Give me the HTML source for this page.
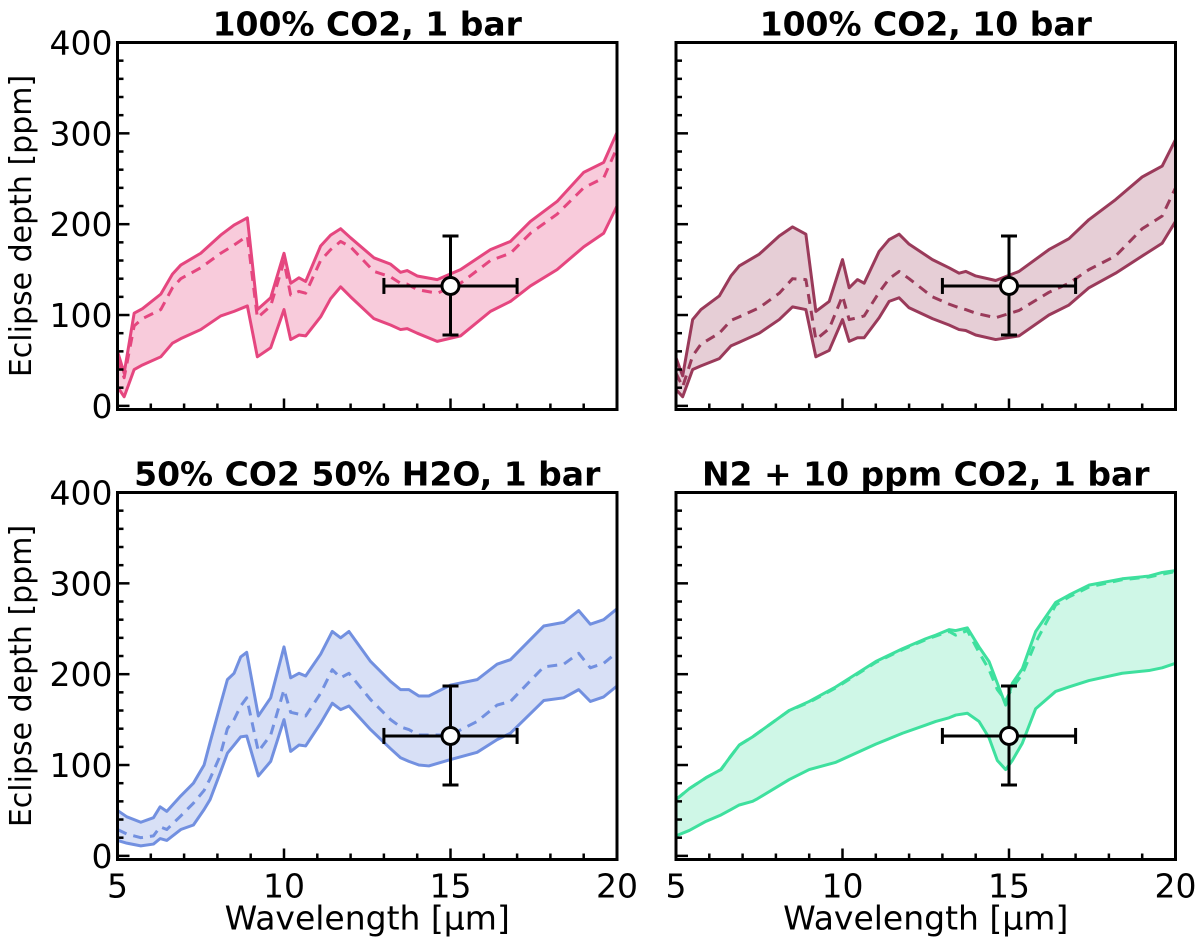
<!DOCTYPE html>
<html><head><meta charset="utf-8"><style>
body{margin:0;background:#fff}
svg{display:block;font-family:"DejaVu Sans","Liberation Sans",sans-serif}
</style></head><body>
<svg id="fig" width="1200" height="946" viewBox="0 0 1200 946" xmlns="http://www.w3.org/2000/svg"></svg>
<script>
const titles = ["100% CO2, 1 bar","100% CO2, 10 bar","50% CO2 50% H2O, 1 bar","N2 + 10 ppm CO2, 1 bar"];
const xTicks = [5,10,15,20];
const yTicks = [0,100,200,300,400];
const w1 = [5,5.2,5.5,5.75,6.3,6.65,6.9,7.5,8.1,8.5,8.9,9.2,9.6,10,10.2,10.45,10.65,11.1,11.4,11.7,12,12.7,13.2,13.5,13.7,14,14.6,15.3,16.2,16.8,17.4,18.2,19,19.6,20];
const p1Upper = [60,36,102,107,123,145,155,168,188,199,207,106,119,168,135,141,137,176,188,195,185,163,156,147,149,143,139,150,172,181,203,225,257,268,301];
const p1Mid = [51,31,88,96,106,130,140,152,168,177,187,97,110,159,122,126,124,160,172,181,175,148,142,135,134,128,124,135,160,168,190,211,240,251,284];
const p1Lower = [21,10,40,45,54,69,74,84,99,104,110,54,64,106,73,78,77,98,118,131,120,96,89,84,85,80,71,77,104,115,132,150,175,190,220];
const p2Upper = [53,33,95,106,121,143,154,167,187,197,189,104,115,161,130,139,135,170,183,189,178,161,152,146,148,143,138,148,172,184,205,227,252,264,293];
const p2Mid = [36,21,55,68,80,94,98,108,124,140,139,73,85,121,95,97,99,125,140,148,140,120,112,108,106,102,97,105,125,135,150,165,195,209,240];
const p2Lower = [18,10,40,44,52,66,70,80,95,109,106,54,61,95,71,75,75,97,115,119,108,96,89,84,83,78,73,77,100,111,130,146,165,179,203];
const w3 = [5,5.28,5.7,6.08,6.28,6.48,6.9,7.28,7.6,7.78,8.08,8.3,8.5,8.7,8.88,9.23,9.6,10,10.2,10.45,10.65,11.1,11.45,11.7,11.95,12.6,13.2,13.5,13.75,14.05,14.35,15,15.8,16.4,16.8,17.8,18.4,18.85,19.2,19.6,20];
const p3Upper = [50,43,37,42,54,49,66,80,100,125,165,194,201,219,224,154,174,230,196,201,198,222,247,240,247,214,192,183,183,176,176,188,194,211,216,253,257,270,255,260,272];
const p3Mid = [29,24,20,22,32,29,44,58,72,85,110,140,150,165,174,115,133,183,158,156,154,179,205,196,201,172,150,142,139,133,133,133,148,166,170,208,211,223,207,212,224];
const p3Lower = [17,14,11,13,19,17,29,34,51,62,91,113,122,131,132,88,104,150,115,122,121,146,168,161,165,139,118,108,104,100,99,106,114,128,135,171,174,183,170,175,187];
const w4 = [5,5.4,5.9,6.35,6.65,6.9,7.3,7.45,8.4,9,9.8,11,11.8,12.5,12.8,13.2,13.4,13.75,14.1,14.4,14.65,14.9,15.1,15.4,15.8,16.4,16.8,17.4,18.4,19.2,19.6,20];
const p4Upper = [62,74,86,95,110,122,131,135,160,170,186,214,228,239,243,249,248,251,230,214,190,166,190,206,247,279,287,298,305,308,312,314];
const p4Mid = [62,74,86,95,110,122,131,135,160,169,185,213,227,238,242,247,243,248,224,205,183,171,185,200,235,276,285,296,304,307,310,313];
const p4Lower = [22,28,38,45,51,56,60,63,84,95,103,123,135,144,148,152,155,157,148,130,105,95,105,124,162,181,186,193,201,204,207,212];
const obsX = 15, obsY = 132, obsXErr = 2, obsYLo = 78, obsYHi = 187;

const NS = "http://www.w3.org/2000/svg";
const svg = document.getElementById("fig");
function mk(tag, attrs, parent){const e=document.createElementNS(NS,tag);for(const k in attrs)e.setAttribute(k,attrs[k]);(parent||svg).appendChild(e);return e;}

const panels = [
 {x0:117.5,x1:617,y0:42.5,y1:409.5,w:w1,up:p1Upper,mid:p1Mid,lo:p1Lower,col:"#e5467f",fill:"rgba(229,70,127,0.28)",ylab:true,xlab:false,name:"co2-1bar"},
 {x0:676,x1:1175.5,y0:42.5,y1:409.5,w:w1,up:p2Upper,mid:p2Mid,lo:p2Lower,col:"#9a3a5a",fill:"rgba(154,58,90,0.25)",ylab:false,xlab:false,name:"co2-10bar"},
 {x0:117.5,x1:617,y0:492.5,y1:859.5,w:w3,up:p3Upper,mid:p3Mid,lo:p3Lower,col:"#7290e0",fill:"rgba(114,144,224,0.28)",ylab:true,xlab:true,name:"co2-h2o-1bar"},
 {x0:676,x1:1175.5,y0:492.5,y1:859.5,w:w4,up:p4Upper,mid:p4Mid,lo:p4Lower,col:"#3ee09e",fill:"rgba(62,224,158,0.25)",ylab:false,xlab:true,name:"n2-co2-1bar"}
];
const YMIN=-4, YMAX=400;
panels.forEach((p,i)=>{
  const g = mk("g",{});
  
  
  const X = v => p.x0 + (v-5)/15*(p.x1-p.x0);
  const Y = v => p.y1 - (v-YMIN)/(YMAX-YMIN)*(p.y1-p.y0);
  let d = p.w.map((w,k)=>(k?"L":"M")+X(w)+","+Y(p.up[k])).join("");
  for(let k=p.w.length-1;k>=0;k--) d+="L"+X(p.w[k])+","+Y(p.lo[k]);
  const f = mk("path",{d:d+"Z",fill:p.fill,stroke:"none"},g);
  
  
  const line = (arr,dash,nm)=>{
    const l = mk("path",{d:p.w.map((w,k)=>(k?"L":"M")+X(w)+","+Y(arr[k])).join(""),fill:"none",stroke:p.col,"stroke-width":3,"stroke-linejoin":"round","stroke-dasharray":dash||"none"},g);
    
    
  };
  line(p.up,null,"upper-line"); line(p.lo,null,"lower-line"); line(p.mid,"10,7","median-line");
  const eb = mk("g",{stroke:"#000","stroke-width":3,fill:"none"},g);
  
  
  mk("line",{x1:X(obsX-obsXErr),x2:X(obsX+obsXErr),y1:Y(obsY),y2:Y(obsY)},eb);
  mk("line",{x1:X(obsX),x2:X(obsX),y1:Y(obsYLo),y2:Y(obsYHi)},eb);
  mk("line",{x1:X(obsX-obsXErr),x2:X(obsX-obsXErr),y1:Y(obsY)-8,y2:Y(obsY)+8},eb);
  mk("line",{x1:X(obsX+obsXErr),x2:X(obsX+obsXErr),y1:Y(obsY)-8,y2:Y(obsY)+8},eb);
  mk("line",{x1:X(obsX)-8,x2:X(obsX)+8,y1:Y(obsYLo),y2:Y(obsYLo)},eb);
  mk("line",{x1:X(obsX)-8,x2:X(obsX)+8,y1:Y(obsYHi),y2:Y(obsYHi)},eb);
  const c = mk("circle",{cx:X(obsX),cy:Y(obsY),r:8.5,fill:"#fff",stroke:"#000","stroke-width":3},g);
  
  
  const fr = mk("rect",{x:p.x0,y:p.y0,width:p.x1-p.x0,height:p.y1-p.y0,fill:"none",stroke:"#000","stroke-width":3},g);
  
  
  for(let v=5; v<=20; v++){
    const maj = xTicks.includes(v);
    mk("line",{x1:X(v),x2:X(v),y1:p.y1,y2:p.y1-(maj?11:6),stroke:"#000","stroke-width":2.5},g);
  }
  for(let v=0; v<=400; v+=20){
    const maj = yTicks.includes(v);
    mk("line",{x1:p.x0,x2:p.x0+(maj?12:6),y1:Y(v),y2:Y(v),stroke:"#000","stroke-width":2.5},g);
  }
  if(p.ylab){
    yTicks.forEach(v=>{
      const t = mk("text",{x:p.x0-5,y:Y(v)+12,"text-anchor":"end","font-size":33,fill:"#000"},g);
      t.textContent=v;
      
      
    });
    const yl = mk("text",{x:0,y:0,"text-anchor":"middle","font-size":30,fill:"#000",transform:`translate(31,${(p.y0+p.y1)/2}) rotate(-90)`},g);
    yl.textContent="Eclipse depth [ppm]";
    
    
  }
  if(p.xlab){
    xTicks.forEach(v=>{
      const t = mk("text",{x:X(v),y:p.y1+38,"text-anchor":"middle","font-size":33,fill:"#000"},g);
      t.textContent=v;
      
      
    });
    const xl = mk("text",{x:(p.x0+p.x1)/2,y:p.y1+70,"text-anchor":"middle","font-size":33,fill:"#000"},g);
    xl.textContent="Wavelength [μm]";
    
    
  }
  const tt = mk("text",{x:(p.x0+p.x1)/2,y:p.y0-7,"text-anchor":"middle","font-size":33,"font-weight":"bold",fill:"#000"},g);
  tt.textContent=titles[i];
  
  
});
</script>
</body></html>
